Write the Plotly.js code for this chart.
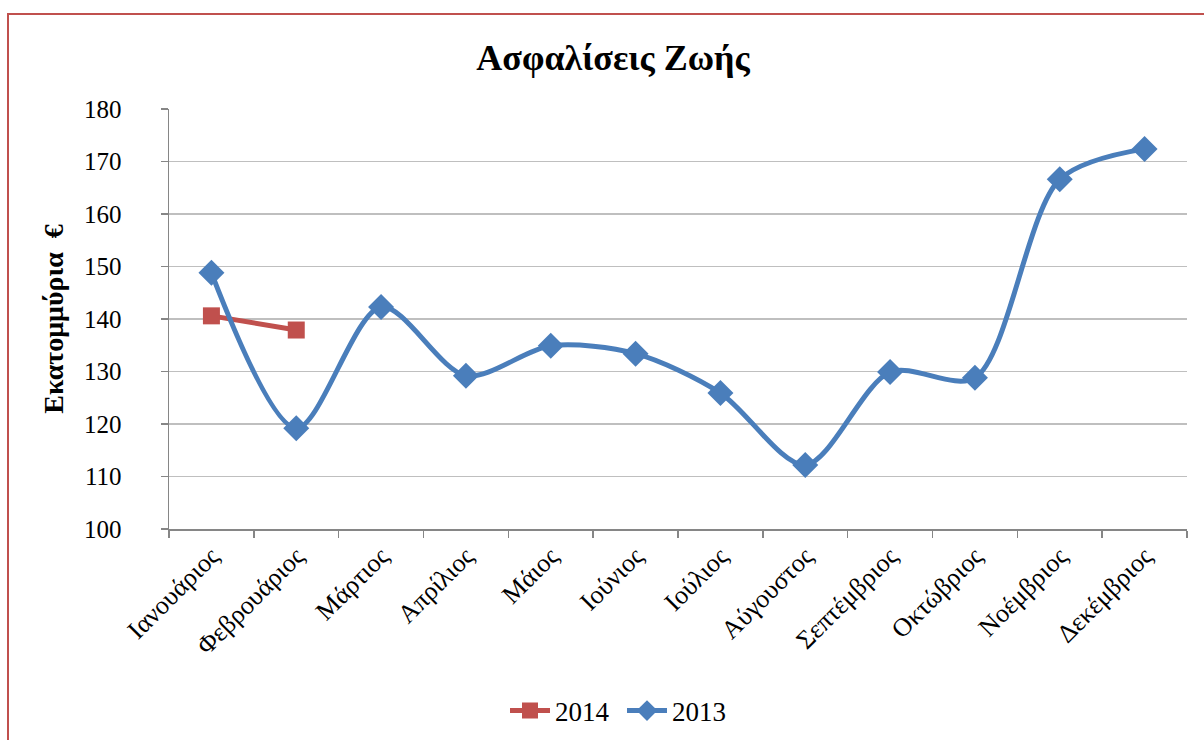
<!DOCTYPE html>
<html>
<head>
<meta charset="utf-8">
<script src="https://cdn.plot.ly/plotly-3.0.1.min.js"></script>
<style>html,body{margin:0;padding:0;background:#fff;}#chart{width:1204px;height:740px;}</style>
</head>
<body>
<div id="chart"></div>
<script>
const months = ["Ιανουάριος","Φεβρουάριος","Μάρτιος","Απρίλιος","Μάιος","Ιούνιος","Ιούλιος","Αύγουστος","Σεπτέμβριος","Οκτώβριος","Νοέμβριος","Δεκέμβριος"];
const months2014 = ["Ιανουάριος","Φεβρουάριος"];
const values2014 = [140.6, 137.9];
const values2013 = [148.8, 119.2, 142.3, 129.2, 134.9, 133.4, 125.9, 112.2, 129.9, 128.8, 166.6, 172.4];
const yTicks = [100, 110, 120, 130, 140, 150, 160, 170, 180];

const serif = "Liberation Serif, Times New Roman, serif";
const red = "#C0504D";
const blue = "#4A7EBB";

const traces = [
  {
    x: months2014, y: values2014, name: "2014", type: "scatter", mode: "lines+markers",
    line: {color: red, width: 5},
    marker: {symbol: "square", size: 17, color: red}
  },
  {
    x: months, y: values2013, name: "2013", type: "scatter", mode: "lines+markers",
    line: {color: blue, width: 5, shape: "spline", smoothing: 0.85},
    marker: {symbol: "diamond", size: 20, color: blue}
  }
];

const L = 169, R = 1187, T = 109, B = 529;
const pw = R - L, ph = B - T;
function px(x){return (x - L) / pw;}
function py(y){return (B - y) / ph;}

const layout = {
  width: 1204, height: 740,
  margin: {l: L, r: 1204 - R, t: T, b: 740 - B},
  paper_bgcolor: "#fff", plot_bgcolor: "#fff",
  font: {family: serif, color: "#000", size: 24},
  title: {
    text: "<b>Ασφαλίσεις Ζωής</b>",
    font: {family: serif, size: 36, color: "#000"},
    x: 613/1204, xref: "container", xanchor: "center",
    y: 1 - 57/740, yref: "container", yanchor: "middle"
  },
  xaxis: {
    type: "category", categoryorder: "array", categoryarray: months,
    range: [-0.5, 11.5],
    tickangle: -45,
    tickson: "boundaries",
    ticks: "outside", ticklen: 7, tickwidth: 1.5, tickcolor: "#868686",
    showline: true, linecolor: "#868686", linewidth: 1.5,
    showgrid: false, zeroline: false,
    tickfont: {family: serif, size: 26, color: "#000"}
  },
  yaxis: {
    range: [100, 180],
    tickvals: yTicks, ticktext: yTicks.map(String),
    ticks: "outside", ticklen: 7, tickwidth: 1.5, tickcolor: "#868686",
    ticklabelstandoff: 34,
    showline: true, linecolor: "#868686", linewidth: 1.5,
    showgrid: true, gridcolor: "#BFBFBF", gridwidth: 1.5,
    zeroline: false,
    tickfont: {family: serif, size: 25, color: "#000"},
    title: {text: "<b>Εκατομμύρια  €</b>", font: {family: serif, size: 28, color: "#000"}, standoff: 12}
  },
  showlegend: true,
  legend: {
    orientation: "h",
    x: 622/1204, xref: "container", xanchor: "center",
    y: 1 - 711/740, yref: "container", yanchor: "middle",
    font: {family: serif, size: 27, color: "#000"},
    entrywidth: 62, entrywidthmode: "pixels",
    itemwidth: 40, tracegroupgap: 0
  },
  shapes: [
    {type: "rect", xref: "paper", yref: "paper",
     x0: px(8), x1: px(1212), y0: py(760), y1: py(14),
     line: {color: red, width: 2}, fillcolor: "rgba(0,0,0,0)", layer: "above"}
  ]
};

Plotly.newPlot("chart", traces, layout, {displayModeBar: false, staticPlot: true});
</script>
</body>
</html>
